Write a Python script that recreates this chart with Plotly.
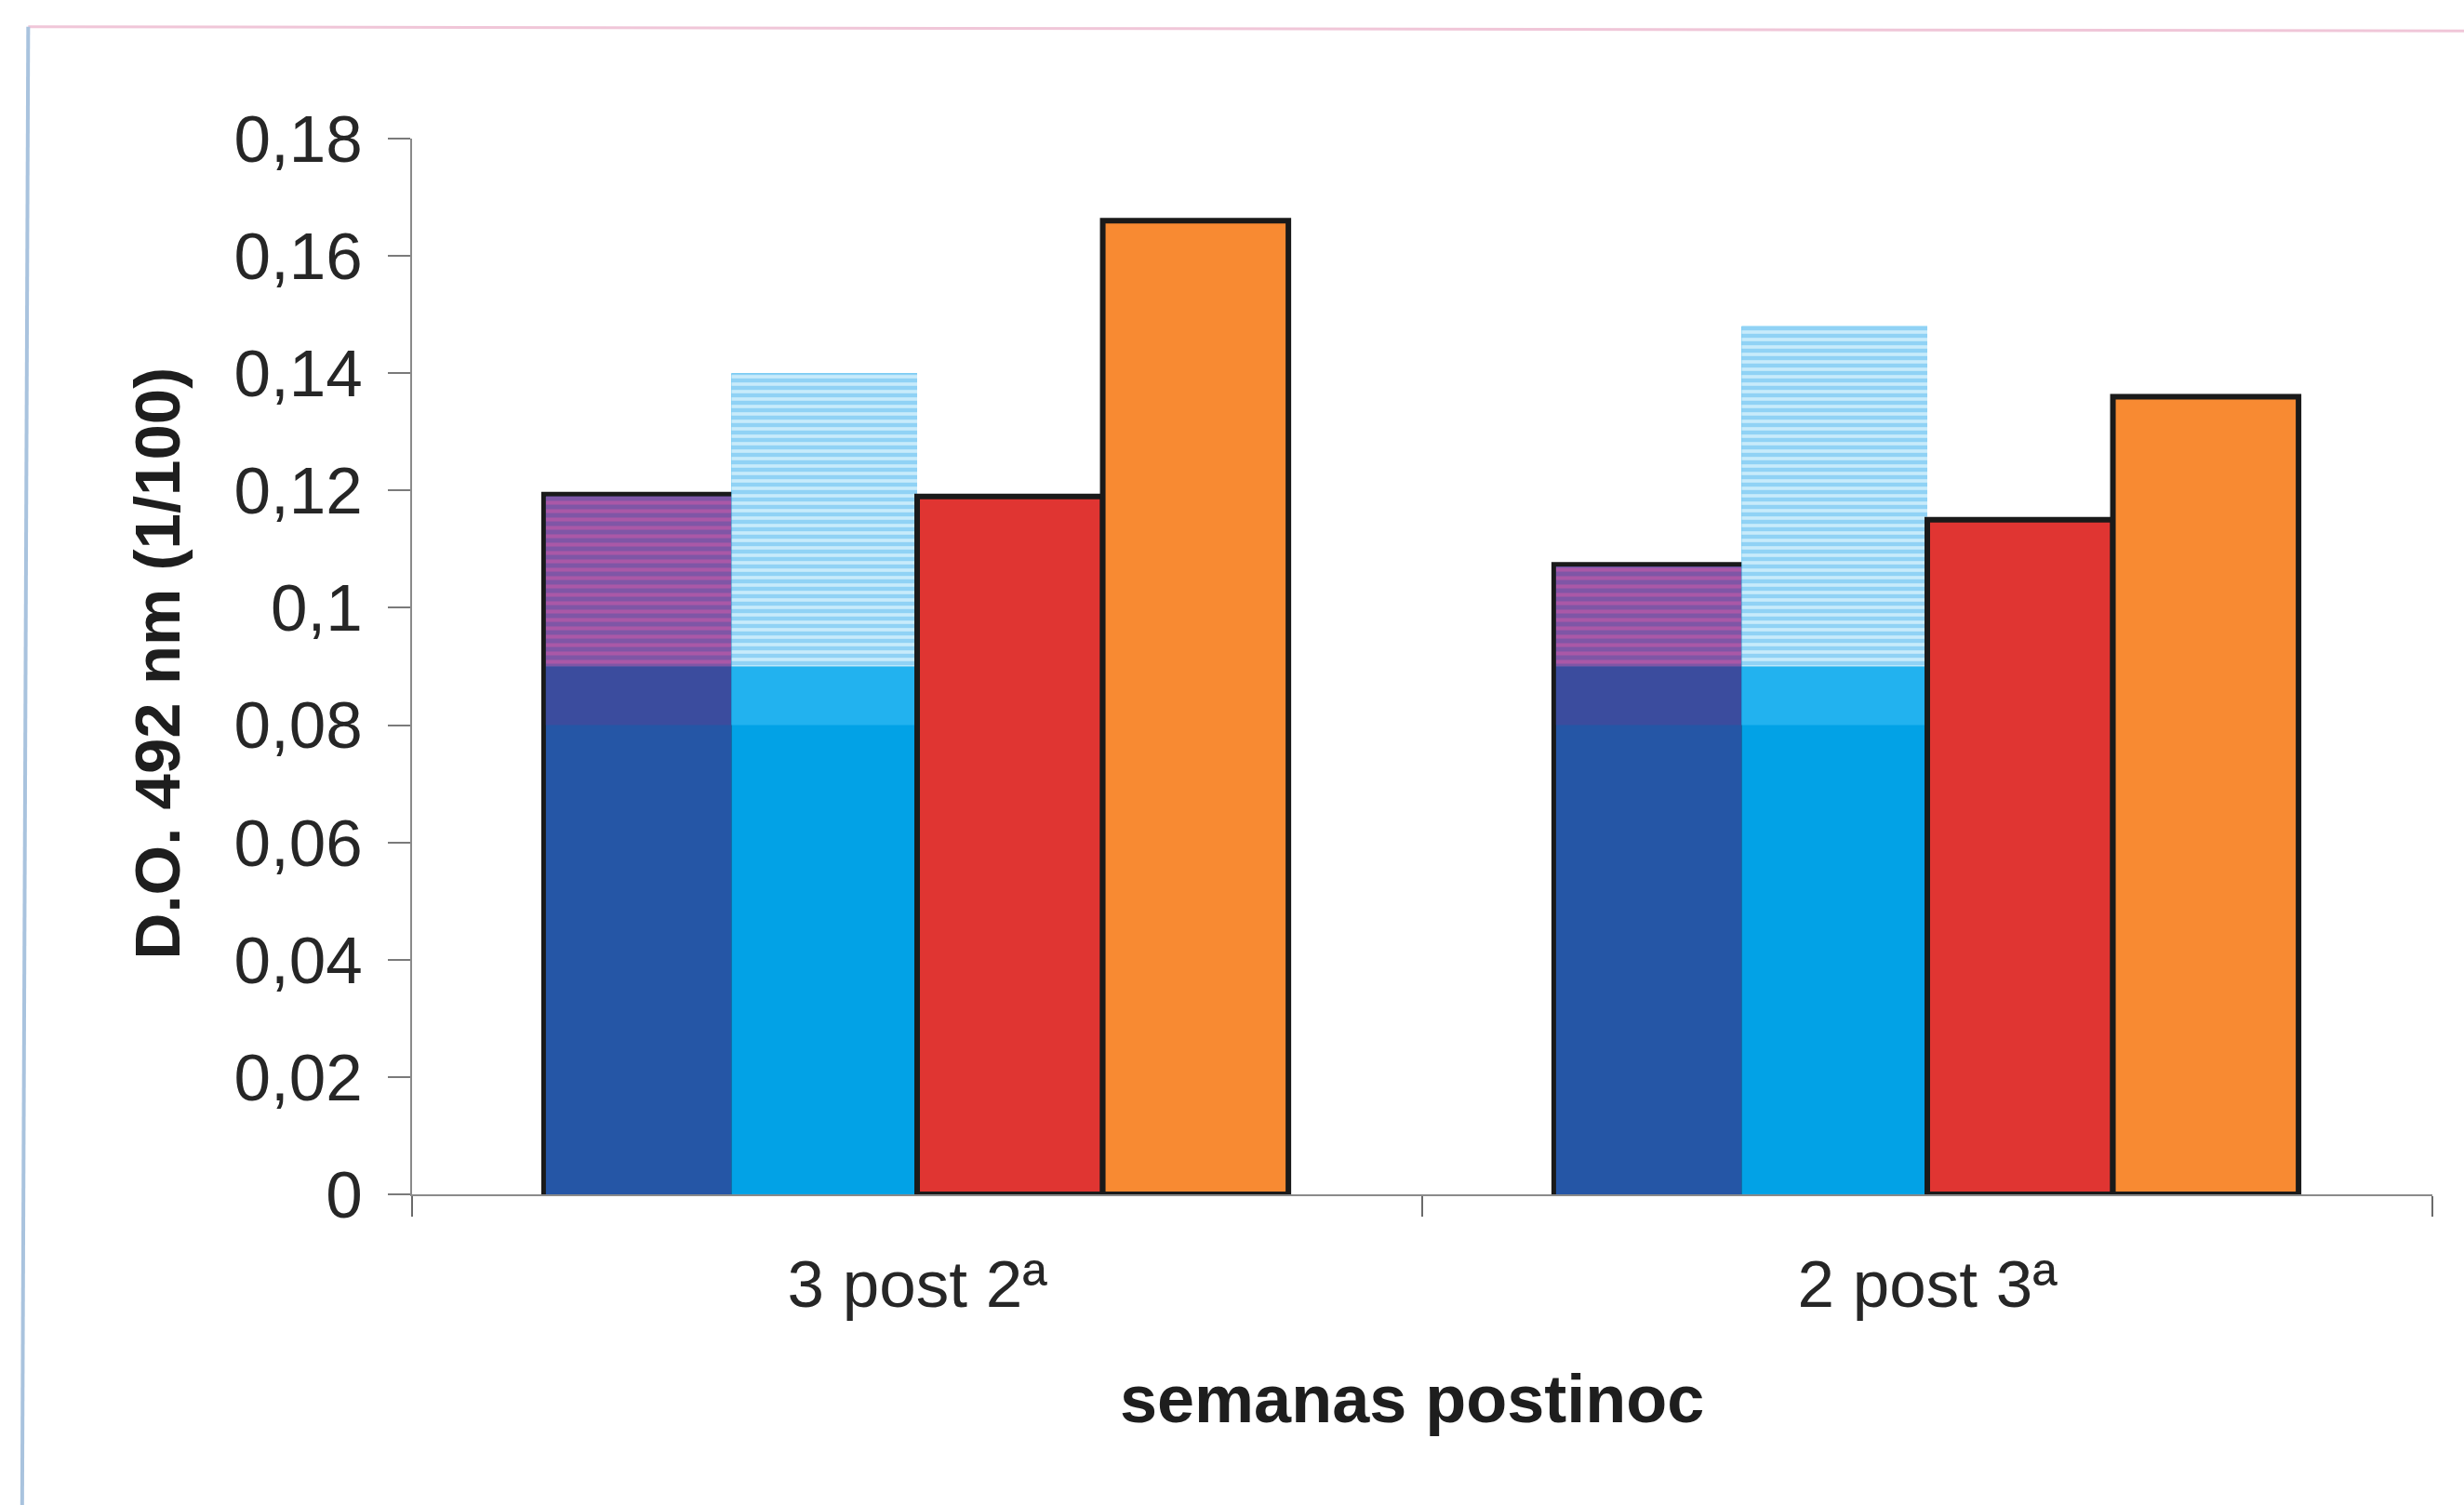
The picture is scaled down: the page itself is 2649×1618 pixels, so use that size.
import plotly.graph_objects as go

# Optical density (D.O. 492 nm, 1/100) per sampling time and group
categories = ["3 post 2ª", "2 post 3ª"]
serie_1 = [0.119, 0.107]
serie_2 = [0.140, 0.148]
serie_3 = [0.119, 0.115]
serie_4 = [0.166, 0.136]

y_ticks = [0, 0.02, 0.04, 0.06, 0.08, 0.10, 0.12, 0.14, 0.16, 0.18]

FONT = "Liberation Sans, Arial, sans-serif"
BAND_LO, BAND_HI = 0.08, 0.09  # zone where the fill shading changes
OUTLINE = dict(color="#1a1a1a", width=6)


def band(vals):
    return [max(0.0, min(v, BAND_HI) - BAND_LO) for v in vals]


def upper(vals):
    return [max(0.0, v - BAND_HI) for v in vals]


fig = go.Figure()

# series 1: outline drawn first (doubled width, fill covers inner half),
# so the shared edge with series 2 disappears under the light blue bar
fig.add_bar(x=categories, y=serie_1, offsetgroup="a",
            marker=dict(color="rgba(0,0,0,0)",
                        line=dict(color="#1a1a1a", width=10)))
fig.add_bar(x=categories, y=serie_1, offsetgroup="a", name="Serie 1",
            marker=dict(color="#2556a6", line=dict(width=0)))
fig.add_bar(x=categories, y=band(serie_1), base=BAND_LO, offsetgroup="a",
            marker=dict(color="#3b4c9e", line=dict(width=0)))
fig.add_bar(x=categories, y=upper(serie_1), base=BAND_HI, offsetgroup="a",
            marker=dict(color="#8a58a8", line=dict(width=0),
                        pattern=dict(shape="-", bgcolor="#7f56a6",
                                     fgcolor="#d65aa8", size=9, solidity=0.45)))

# series 2: light blue, no outline, striped upper part
fig.add_bar(x=categories, y=serie_2, offsetgroup="b", name="Serie 2",
            marker=dict(color="#02a2e6", line=dict(width=0)))
fig.add_bar(x=categories, y=band(serie_2), base=BAND_LO, offsetgroup="b",
            marker=dict(color="#22b2ef", line=dict(width=0)))
fig.add_bar(x=categories, y=upper(serie_2), base=BAND_HI, offsetgroup="b",
            marker=dict(color="#bce5fa", line=dict(width=0),
                        pattern=dict(shape="-", bgcolor="#c8ebfb",
                                     fgcolor="#58baef", size=8, solidity=0.55)))

# series 3 and 4
fig.add_bar(x=categories, y=serie_3, offsetgroup="c", name="Serie 3",
            marker=dict(color="#e03532", line=OUTLINE))
fig.add_bar(x=categories, y=serie_4, offsetgroup="d", name="Serie 4",
            marker=dict(color="#f88a32", line=OUTLINE))

fig.update_layout(
    width=2649, height=1618,
    margin=dict(l=443, r=34, t=149, b=334),
    paper_bgcolor="white", plot_bgcolor="white",
    barmode="group", bargap=0.265, bargroupgap=0,
    showlegend=False,
    separators=", ",
    font=dict(family=FONT, size=70, color="#262626"),
)

fig.update_yaxes(
    range=[0, 0.18], tickvals=y_ticks, showgrid=False, zeroline=False,
    showline=True, linecolor="#8a8a8a", linewidth=2,
    ticks="outside", ticklen=24, tickwidth=2, tickcolor="#7a7a7a",
    ticklabelstandoff=13,
    tickfont=dict(family=FONT, size=71, color="#262626"),
)
fig.update_xaxes(
    showgrid=False, zeroline=False,
    showline=True, linecolor="#8a8a8a", linewidth=2,
    ticks="outside", tickson="boundaries", ticklen=22, tickwidth=2,
    tickcolor="#6a6a6a", ticklabelstandoff=34,
    tickfont=dict(family=FONT, size=71, color="#262626"),
)

fig.add_annotation(
    text="<b>D.O. 492 nm (1/100)</b>", textangle=-90,
    xref="paper", yref="paper", x=-0.126, y=0.503,
    xanchor="center", yanchor="middle", showarrow=False,
    font=dict(family=FONT, size=69, color="#1e1e1e"),
)
fig.add_annotation(
    text="<b>semanas postinoc</b>",
    xref="paper", yref="paper", x=0.495, y=-0.194,
    xanchor="center", yanchor="middle", showarrow=False,
    font=dict(family=FONT, size=72, color="#1e1e1e"),
)

# outer frame of the chart area
fig.add_shape(type="line", xref="paper", yref="paper",
              x0=-0.19, x1=1.02, y0=1.106, y1=1.102,
              line=dict(color="#f0c6d8", width=3))
fig.add_shape(type="line", xref="paper", yref="paper",
              x0=-0.19, x1=-0.193, y0=1.106, y1=-0.30,
              line=dict(color="#a9c3de", width=4))

fig.write_html("out.html")
